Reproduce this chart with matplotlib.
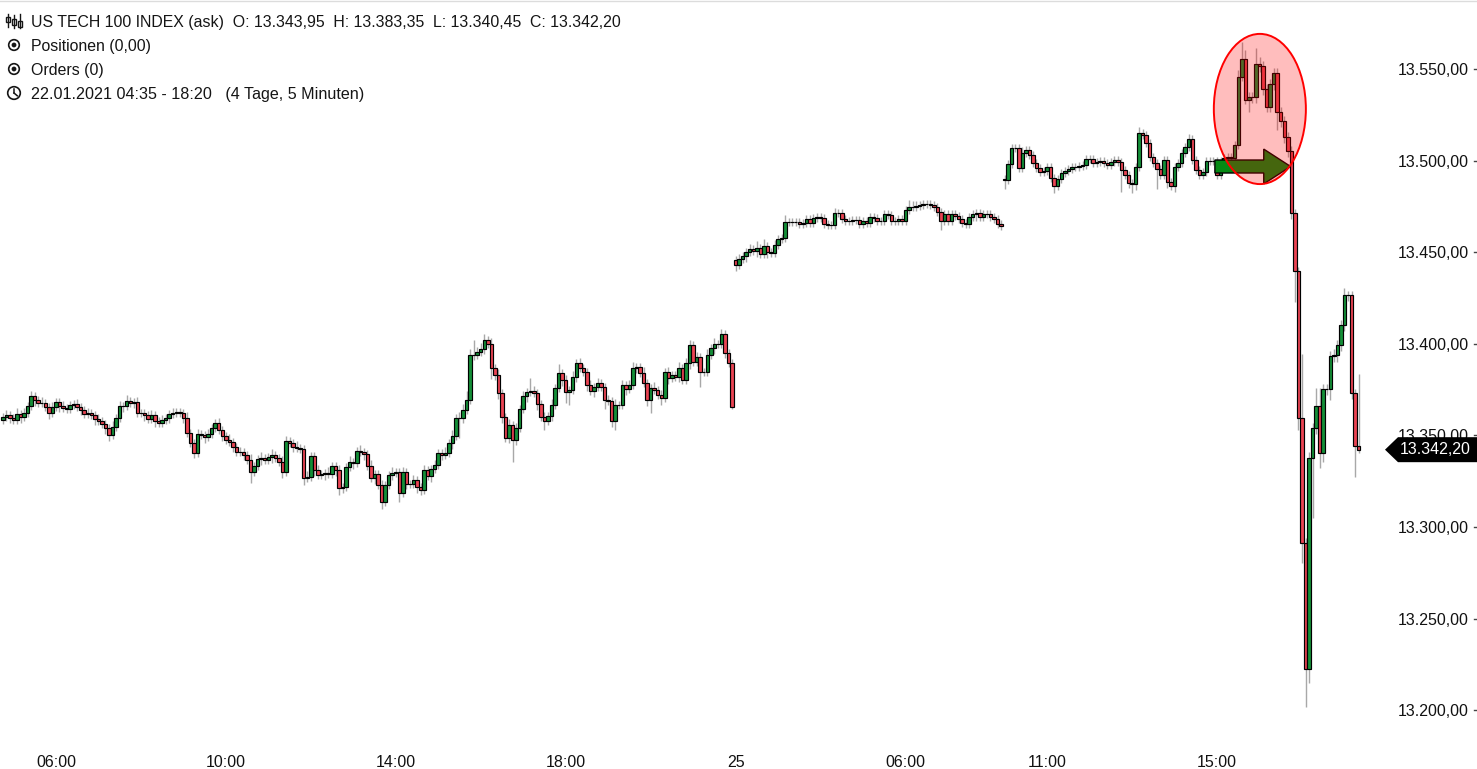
import numpy as np
import pandas as pd
import matplotlib
matplotlib.use("Agg")
import matplotlib.pyplot as plt
from matplotlib import font_manager as fm
from matplotlib.patches import Ellipse, FancyArrow, Polygon, Circle, Rectangle
from matplotlib.lines import Line2D
import matplotlib.transforms as mtrans

# ---------------- data ----------------
sessions = [("2021-01-22 04:45", "2021-01-22 21:55"),
            ("2021-01-25 02:00", "2021-01-25 08:15"),
            ("2021-01-25 10:00", "2021-01-25 18:20")]
session_open = [13358.4, 13445.7, 13490.0]

close_day1 = [
    13360.0, 13361.1, 13359.5, 13358.4, 13361.7, 13360.0, 13362.2, 13366.0, 13371.5, 13369.3,
    13367.7, 13367.7, 13365.5, 13362.2, 13365.5, 13368.2, 13366.0, 13364.9, 13364.4, 13366.6,
    13367.1, 13365.5, 13363.9, 13361.7, 13362.2, 13361.1, 13358.9, 13357.8, 13356.2, 13354.0,
    13350.2, 13354.6, 13359.5, 13366.0, 13366.0, 13368.8, 13367.7, 13368.2, 13362.2, 13362.2,
    13361.1, 13358.9, 13361.1, 13357.8, 13356.7, 13358.4, 13359.5, 13361.7, 13362.2, 13362.8,
    13362.2, 13359.5, 13351.3, 13345.8, 13340.4, 13350.7, 13350.2, 13349.1, 13350.7, 13354.0,
    13356.7, 13352.9, 13349.7, 13347.5, 13346.4, 13343.7, 13340.9, 13340.9, 13339.3, 13336.6,
    13330.0, 13333.3, 13337.1, 13337.7, 13336.6, 13338.2, 13339.3, 13337.7, 13335.5, 13330.0,
    13346.9, 13345.8, 13343.7, 13343.1, 13342.6, 13326.7, 13327.3, 13338.8, 13331.1, 13328.4,
    13328.9, 13329.5, 13328.9, 13333.3, 13331.1, 13321.3, 13321.8, 13332.7, 13335.5, 13334.9,
    13341.5, 13340.9, 13339.8, 13333.3, 13326.7, 13328.9, 13322.9, 13313.6, 13322.9, 13328.4,
    13329.5, 13330.0, 13318.5, 13330.0, 13323.5, 13323.5, 13325.6, 13321.8, 13320.2, 13331.1,
    13327.8, 13331.6, 13333.8, 13340.4, 13339.3, 13340.4, 13345.8, 13349.7, 13359.5, 13359.5,
    13363.9, 13369.3, 13393.9, 13393.9, 13395.5, 13397.2, 13402.1, 13399.9, 13386.8, 13383.0,
    13373.1, 13360.0, 13348.6, 13355.7, 13347.5, 13354.0, 13364.4, 13371.5, 13373.7, 13374.2,
    13373.1, 13367.1, 13360.0, 13357.8, 13360.6, 13366.6, 13375.9, 13384.1, 13380.2, 13373.7,
    13374.8, 13381.9, 13389.5, 13386.8, 13384.6, 13377.5, 13374.2, 13376.4, 13378.6, 13376.4,
    13369.3, 13368.8, 13357.8, 13366.6, 13366.6, 13377.5, 13375.3, 13377.5, 13386.8, 13387.3,
    13384.1, 13378.6, 13369.3, 13375.9, 13374.8, 13372.0, 13370.4, 13384.6, 13381.3, 13383.0,
    13381.9, 13386.8, 13380.2, 13389.5, 13399.3, 13390.1, 13392.8, 13384.6, 13384.6, 13393.9,
    13397.7, 13399.9, 13399.9, 13405.3, 13395.0, 13389.5, 13365.5]

close_day2a = [
    13443.0, 13446.3, 13447.9, 13450.1, 13451.7, 13450.6, 13452.3, 13449.0, 13453.4, 13450.1,
    13449.6, 13453.9, 13457.2, 13457.7, 13466.5, 13466.5, 13466.5, 13466.5, 13465.4, 13465.9,
    13468.1, 13465.9, 13468.7, 13469.2, 13468.7, 13465.4, 13464.9, 13464.9, 13471.4, 13471.4,
    13468.1, 13467.0, 13467.0, 13467.6, 13467.6, 13465.4, 13467.0, 13465.9, 13469.2, 13468.7,
    13467.0, 13467.0, 13470.8, 13470.3, 13467.0, 13467.0, 13468.1, 13467.0, 13473.0, 13474.7,
    13474.7, 13475.2, 13475.8, 13476.3, 13476.3, 13475.8, 13474.7, 13471.9, 13467.0, 13470.8,
    13467.0, 13470.8, 13469.8, 13468.1, 13465.9, 13465.4, 13469.2, 13470.8, 13471.4, 13469.2,
    13470.8, 13470.8, 13469.2, 13468.1, 13465.4, 13464.3]

close_day2b = [
    13489.4, 13498.1, 13506.9, 13506.9, 13496.0, 13504.2, 13505.8, 13503.1, 13498.7, 13496.0,
    13493.8, 13494.3, 13496.5, 13490.5, 13486.1, 13490.0, 13493.2, 13494.3, 13495.4, 13496.5,
    13496.5, 13497.1, 13497.6, 13500.9, 13500.9, 13498.7, 13499.2, 13499.8, 13498.7, 13497.6,
    13499.2, 13500.3, 13499.2, 13494.9, 13492.1, 13487.8, 13487.2, 13496.5, 13515.1, 13514.0,
    13509.6, 13502.0, 13498.7, 13495.4, 13492.1, 13500.3, 13488.3, 13486.1, 13496.5, 13498.7,
    13504.2, 13507.4, 13511.8, 13500.3, 13494.9, 13492.1, 13493.8, 13499.8, 13499.8, 13499.8,
    13492.1, 13499.8, 13501.4, 13502.0, 13501.4, 13508.5, 13545.6, 13555.5, 13533.1, 13534.7,
    13534.7, 13552.7, 13551.6, 13539.1, 13529.3, 13541.8, 13547.8, 13526.5, 13521.6, 13512.9,
    13505.2, 13471.4, 13439.7, 13359.5, 13291.2, 13222.5, 13337.7, 13354.0, 13366.0, 13340.4,
    13375.3, 13375.3, 13393.3, 13393.9, 13399.3, 13410.2, 13426.6, 13426.6, 13373.1, 13343.95,
    13342.2]

# wick lengths (index points above body top / below body bottom)
wick_up = [
    2,3,2,2,3,2,3,2,3,2, 2,3,2,2,3,2,2,3,2,2,
    2,3,2,2,3,2,2,3,2,2, 2,3,2,3,2,3,2,2,3,2,
    2,2,3,2,2,3,2,2,3,2, 2,2,3,2,2,3,2,2,3,2,
    2,3,2,2,3,2,2,3,2,2, 3,2,2,3,2,2,3,2,2,3,
    3,2,2,3,2,2,3,2,2,3, 2,2,3,2,2,3,2,2,3,2,
    2,3,2,2,3,2,2,3,2,2, 3,2,2,3,2,2,3,2,2,3,
    2,2,3,2,2,3,2,3,2,3, 3,5,3,8,3,3,3,2,3,2,
    3,2,2,3,2,3,2,3,2,7, 3,2,2,3,2,3,2,5,2,3,
    2,3,2,3,2,2,3,2,3,2, 2,3,2,3,2,3,2,3,3,2,
    2,3,2,2,3,2,3,2,3,2, 2,3,2,3,3,2,3,2,2,3,
    2,3,2,3,2,2,2, 2,3,2,2,3,2,4,2,4,2,2,3,2,
    2,4,2,2,2,2,2,2,2,2, 2,2,2,2,2,3,2,2,2,2,
    2,2,2,2,2,2,2,2,2,2, 2,2,2,2,2,2,4,3,3,2,
    2,2,2,2,2,2,2,2,2,2, 2,2,2,2,2,2,2,2,2,2,
    2,2,2, 2,2,2,2,2,3,2,2,2,2,2,2,2,2,2,2,2,
    2,2,2,2,2,2,2,2,2,2, 2,2,2,2,2,2,2,2,2,2,
    2,3,2,2,2,2,2,2,2,2, 2,2,2,2,2,3,2,2,2,2,
    2,2,2,2,2,2,2,2,2,4, 9,5,3,3,9,4,3,3,3,3,
    3,3,3,3,3,2,2,35,3,3, 3,10,10,3,3,3,3,3,3,4,
    2,2,2,39.4]

wick_dn = [
    2,2,3,2,2,3,2,2,2,3, 2,2,2,3,2,2,3,2,2,2,
    2,2,3,2,2,2,3,2,2,3, 3,2,2,2,3,2,2,3,2,2,
    3,2,2,3,2,2,2,3,2,2, 2,3,2,2,3,2,2,3,2,2,
    2,2,3,2,2,3,2,2,3,2, 6,2,2,3,2,2,3,2,2,3,
    2,2,3,2,2,4,2,2,3,2, 2,3,2,2,3,4,3,2,2,3,
    2,2,3,2,2,3,2,4,2,2, 3,2,5,2,3,2,2,3,3,2,
    2,3,2,2,3,2,2,3,2,11, 3,2,2,3,2,2,3,2,6,3,
    3,3,2,3,12,3,2,2,3,2, 2,3,2,5,2,3,2,2,3,6,
    7,2,3,2,2,3,2,3,2,2, 5,2,3,5,2,2,3,2,2,3,
    2,2,3,7,2,2,4,2,3,2, 2,3,2,2,3,2,2,8,2,2,
    2,3,2,2,3,2,1, 3,2,2,3,2,2,3,2,2,3,2,2,2,
    2,2,2,2,2,2,2,2,2,2, 2,2,2,2,2,2,2,2,2,2,
    2,2,2,2,2,2,2,2,2,2, 2,2,2,2,2,2,2,2,2,2,
    2,2,2,2,2,5,2,2,2,2, 2,2,2,2,2,4,2,2,2,2,
    2,2,2, 5,2,2,2,2,2,2,2,2,2,2,2,2,2,4,2,2,
    2,2,2,2,2,2,2,2,2,2, 2,2,2,2,2,2,12,2,3,5,
    3,2,2,2,2,2,11,2,2,3, 2,3,2,2,2,2,2,2,2,2,
    2,2,2,2,2,2,2,2,2,2, 2,2,6.5,3,3,3,3,3,3,3,
    10,3,3,3,3,17,6.5,11,20.7,7.6, 33,3,8,5,3,6,3,4,3,3,
    3,3,16.6,1.75]

tick_times = ["2021-01-22 06:00", "2021-01-22 10:00", "2021-01-22 14:00", "2021-01-22 18:00",
              "2021-01-25 02:00", "2021-01-25 06:00", "2021-01-25 11:00", "2021-01-25 15:00"]
tick_labels = ["06:00", "10:00", "14:00", "18:00", "25", "06:00", "11:00", "15:00"]
price_ticks = [13200, 13250, 13300, 13350, 13400, 13450, 13500, 13550]

header = "US TECH 100 INDEX (ask)  O: 13.343,95  H: 13.383,35  L: 13.340,45  C: 13.342,20"
line2 = "Positionen (0,00)"
line3 = "Orders (0)"
line4 = "22.01.2021 04:35 - 18:20   (4 Tage, 5 Minuten)"
last_label = "13.342,20"

# ---------------- build series ----------------
times = pd.DatetimeIndex(np.concatenate(
    [pd.date_range(a, b, freq="5min").values for a, b in sessions]))
close = np.array(close_day1 + close_day2a + close_day2b, dtype=float)
wu = np.array(wick_up, dtype=float)
wd = np.array(wick_dn, dtype=float)
if not (len(times) == len(close) == len(wu) == len(wd)):
    raise ValueError(f"length mismatch {len(times)} {len(close)} {len(wu)} {len(wd)}")

opens = np.r_[np.nan, close[:-1]]
starts = np.cumsum([0, len(close_day1), len(close_day2a)])
opens[starts] = session_open
idx = np.arange(len(close))
body_lo = np.minimum(opens, close)
body_hi = np.maximum(opens, close)
high = body_hi + wu
low = body_lo - wd
is_up = close >= opens

# ---------------- fonts ----------------
names = {f.name for f in fm.fontManager.ttflist}
BASE = "Liberation Sans" if "Liberation Sans" in names else "DejaVu Sans"
plt.rcParams["font.family"] = [BASE, "DejaVu Sans"]

W, H = 1477, 769
fig = plt.figure(figsize=(W / 100, H / 100), dpi=100)
fig.patch.set_facecolor("white")
AX_R, AX_B = 1390, 740
ax = fig.add_axes([0, (H - AX_B) / H, AX_R / W, AX_B / H])
ax.set_facecolor("white")

GREEN = "#148f38"
RED = "#ea4453"

ax.vlines(idx, low, high, color="#a8a8a8", lw=1.0, zorder=1)
ax.bar(idx, body_hi - body_lo, bottom=body_lo, width=0.98,
       color=np.where(is_up, GREEN, RED), edgecolor="black", linewidth=0.85, zorder=2)

# annotations: arrow and ellipse
arrow = FancyArrow(342.4, 13496.8, 21.4, 0, width=7.1, head_width=19.0, head_length=7.6,
                   length_includes_head=True, fc="#058a14", ec="black", lw=1.0, zorder=3)
ax.add_patch(arrow)
ell = Ellipse((355.1, 13528.2), 26.0, 82.0, fc=(1, 0, 0, 0.26), ec="#ff0000", lw=1.4, zorder=4)
ax.add_patch(ell)

# axes formatting
X0, STEP = 2.8, 3.54
ax.set_xlim(-X0 / STEP, (AX_R - X0) / STEP)
ax.set_ylim(13183.7, 13587.7)
for s in ax.spines.values():
    s.set_visible(False)

tick_pos = [times.get_loc(pd.Timestamp(t)) for t in tick_times]
ax.set_xticks(tick_pos)
ax.set_xticklabels(tick_labels)
ax.tick_params(axis="x", length=0, pad=10.6, labelsize=11.5, labelcolor="#111111")


def de_fmt(v):
    return f"{v:,.2f}".replace(",", "X").replace(".", ",").replace("X", ".")


ax.yaxis.tick_right()
ax.set_yticks(price_ticks)
ax.set_yticklabels([de_fmt(v) for v in price_ticks])
ax.tick_params(axis="y", length=0, pad=5.8, labelsize=11.5, labelcolor="#111111")

bt = mtrans.blended_transform_factory(fig.transFigure, ax.transData)
for v in price_ticks:
    fig.add_artist(Line2D([1474 / W, 1477 / W], [v, v], transform=bt, color="#444444", lw=1.0))

# last price badge
pts_per_px = (13587.7 - 13183.7) / AX_B
last = close[-1]
hh = 12.5 * pts_per_px
badge = Polygon([(1385 / W, last), (1398 / W, last + hh), (1477 / W, last + hh),
                 (1477 / W, last - hh), (1398 / W, last - hh)], closed=True,
                transform=bt, fc="black", ec="none", zorder=5)
fig.add_artist(badge)
fig.text(1435 / W, last, last_label, transform=bt, color="white", ha="center", va="center",
         fontsize=11.5, zorder=6)

# header (pixel coordinates, y downward)
pt = mtrans.Affine2D().scale(1 / W, -1 / H).translate(0, 1) + fig.transFigure
fig.add_artist(Line2D([0, W], [0.5, 0.5], transform=pt, color="#dcdcdc", lw=1))
TXT = "#151515"
for y, s, fs in [(22, header, 11.4), (46, line2, 11.4), (70, line3, 11.4), (94, line4, 11.6)]:
    fig.text(31, y, s, transform=pt, ha="left", va="center", fontsize=fs, color=TXT)

# candlestick icon
for cx, top, bot, btop, bbot in [(8, 14, 27, 16.5, 22), (14, 15, 28, 18.5, 24.5), (20, 14, 28, 20.5, 26.5)]:
    fig.add_artist(Line2D([cx, cx], [top, bot], transform=pt, color=TXT, lw=1.0))
    fig.add_artist(Rectangle((cx - 1.7, btop), 3.4, bbot - btop, transform=pt, fc="white",
                             ec=TXT, lw=1.0))
# radio icons
for cy in (45, 69):
    fig.add_artist(Circle((14, cy), 5.3, transform=pt, fill=False, ec=TXT, lw=1.2))
    fig.add_artist(Circle((14, cy), 2.4, transform=pt, fc=TXT, ec="none"))
# clock icon
fig.add_artist(Circle((14, 93), 6.3, transform=pt, fill=False, ec=TXT, lw=1.2))
fig.add_artist(Line2D([14, 14], [93, 88.5], transform=pt, color=TXT, lw=1.1))
fig.add_artist(Line2D([14, 17.3], [93, 95.8], transform=pt, color=TXT, lw=1.1))

fig.savefig("out.png", dpi=100, facecolor="white")
